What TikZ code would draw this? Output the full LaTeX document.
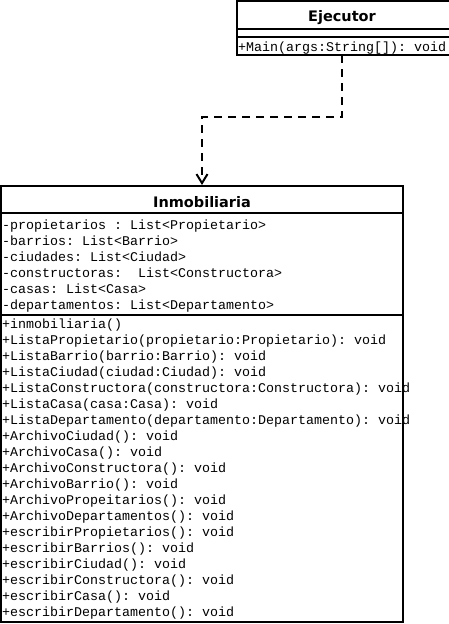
\documentclass[tikz,border=0pt]{standalone}
\usepackage{fontspec}
\usetikzlibrary{arrows.meta}
\newfontfamily\umlmono{Liberation Mono}
\newfontfamily\umlsans{DejaVu Sans}
\frenchspacing

\tikzset{
  classbox/.style={draw=black, line width=2pt, rectangle, inner sep=0pt},
  classname/.style={font=\umlsans\bfseries\fontsize{14.5}{17}\selectfont, inner sep=0pt, anchor=base},
  member/.style={font=\umlmono\fontsize{13.33}{16}\selectfont, inner sep=0pt, anchor=base west},
  sepline/.style={black, line width=2pt},
  dep/.style={black, line width=2pt, dash pattern=on 8pt off 6pt, -{Straight Barb[length=9pt,width=11pt]}}
}

\begin{document}
\begin{tikzpicture}[x=1pt,y=-1pt]
            \useasboundingbox[fill=white] (0,0) rectangle (448,624);

            %% Ejecutor
            \node[classname] (ejecname) at (342,21.5) {Ejecutor};
            \node[member] (main) at (238,51) {+Main(args:String[]): void};

            %% Inmobiliaria
            \node[classname] (inmoname) at (202,207) {Inmobiliaria};

            % attributes
            \node[member] (attr1) at (2,229) {-propietarios : List<Propietario>};
            \node[member] (attr2) at (2,245) {-barrios: List<Barrio>};
            \node[member] (attr3) at (2,261) {-ciudades: List<Ciudad>};
            \node[member] (attr4) at (2,277) {-constructoras:\ \ List<Constructora>};
            \node[member] (attr5) at (2,293) {-casas: List<Casa>};
            \node[member] (attr6) at (2,309) {-departamentos: List<Departamento>};

            % methods
            \node[member] (meth1)  at (2,328.5) {+inmobiliaria()};
            \node[member] (meth2)  at (2,344.5) {+ListaPropietario(propietario:Propietario): void};
            \node[member] (meth3)  at (2,360.5) {+ListaBarrio(barrio:Barrio): void};
            \node[member] (meth4)  at (2,376.5) {+ListaCiudad(ciudad:Ciudad): void};
            \node[member] (meth5)  at (2,392.5) {+ListaConstructora(constructora:Constructora): void};
            \node[member] (meth6)  at (2,408.5) {+ListaCasa(casa:Casa): void};
            \node[member] (meth7)  at (2,424.5) {+ListaDepartamento(departamento:Departamento): void};
            \node[member] (meth8)  at (2,440.5) {+ArchivoCiudad(): void};
            \node[member] (meth9)  at (2,456.5) {+ArchivoCasa(): void};
            \node[member] (meth10) at (2,472.5) {+ArchivoConstructora(): void};
            \node[member] (meth11) at (2,488.5) {+ArchivoBarrio(): void};
            \node[member] (meth12) at (2,504.5) {+ArchivoPropeitarios(): void};
            \node[member] (meth13) at (2,520.5) {+ArchivoDepartamentos(): void};
            \node[member] (meth14) at (2,536.5) {+escribirPropietarios(): void};
            \node[member] (meth15) at (2,552.5) {+escribirBarrios(): void};
            \node[member] (meth16) at (2,568.5) {+escribirCiudad(): void};
            \node[member] (meth17) at (2,584.5) {+escribirConstructora(): void};
            \node[member] (meth18) at (2,600.5) {+escribirCasa(): void};
            \node[member] (meth19) at (2,616.5) {+escribirDepartamento(): void};

            %% boxes
            \node[classbox, minimum width=213pt, minimum height=54pt] (ejec) at (343.5,28) {};
            \node[classbox, minimum width=402pt, minimum height=436pt] (inmo) at (202,404) {};

            % compartments
            \coordinate (ejecsep1) at (0,28.5);
            \coordinate (ejecsep2) at (0,36.5);
            \draw[sepline] (ejec.west |- ejecsep1) -- (ejec.east |- ejecsep1);
            \draw[sepline] (ejec.west |- ejecsep2) -- (ejec.east |- ejecsep2);
            \coordinate (inmosep1) at (0,212.5);
            \coordinate (inmosep2) at (0,314.5);
            \draw[sepline] (inmo.west |- inmosep1) -- (inmo.east |- inmosep1);
            \draw[sepline] (inmo.west |- inmosep2) -- (inmo.east |- inmosep2);

            %% dependency
            \coordinate (ejecdep) at (342,55);
            \coordinate (bend) at (202,117);
            \draw[dep] (ejecdep) |- (bend) -- (inmo.north);

        \end{tikzpicture}
\end{document}
